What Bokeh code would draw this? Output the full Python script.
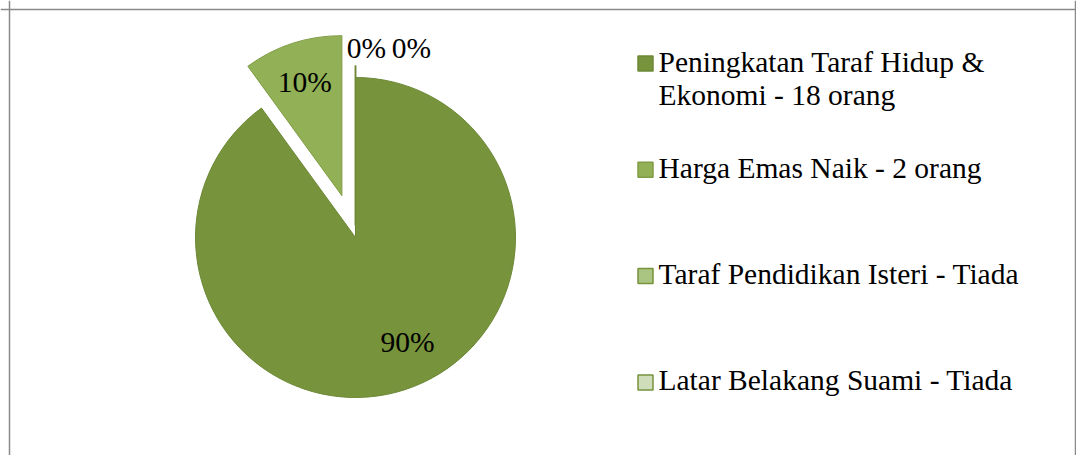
import math
from bokeh.plotting import figure
from bokeh.models import Range1d, Span
from bokeh.core.properties import value
from bokeh.embed import file_html
from bokeh.resources import INLINE

# ---- data ----
categories = ["Peningkatan Taraf Hidup &\nEkonomi - 18 orang",
              "Harga Emas Naik - 2 orang",
              "Taraf Pendidikan Isteri - Tiada",
              "Latar Belakang Suami - Tiada"]
counts = [18, 2, 0, 0]
pct_labels = ["90%", "10%", "0%", "0%"]

# ---- style ----
fills = ["#77933C", "#92B055", "#AAC581", "#CFDDBB"]
edges = ["#6C8836", "#7F9C44", "#77933C", "#77933C"]
explode = [0, 44, 12, 12]
label_dist = [110, 120, 178, 178]
label_dx = [18, 0, 11, 56]
FONT = value("'Liberation Serif', 'Times New Roman', serif")
FS = "29.5px"

W, H = 1076, 455
p = figure(width=W, height=H, output_backend="svg", toolbar_location=None,
           x_range=Range1d(0, W), y_range=Range1d(0, H), min_border=0)
p.axis.visible = False
p.grid.visible = False
p.outline_line_color = None
p.background_fill_color = "white"
p.border_fill_color = "white"

# border (left, right, top)
for loc, dim in [(9, "height"), (W - 1, "height"), (H - 9, "width")]:
    p.add_layout(Span(location=loc, dimension=dim, line_color="#8a8a8a", line_width=1.5))

cx, cy, r = 355, 218, 160
total = sum(counts)
start = math.pi / 2
slices = []
for i, c in enumerate(counts):
    sweep = 2 * math.pi * c / total
    end = start - sweep
    mid = (start + end) / 2
    ox = cx + explode[i] * math.cos(mid)
    oy = cy + explode[i] * math.sin(mid)
    slices.append((start, end, mid, ox, oy))
    start = end

# zero-width slices as radial lines (drawn first)
for i, c in enumerate(counts):
    if c == 0:
        s, e, m, ox, oy = slices[i]
        p.segment(x0=[ox], y0=[oy], x1=[ox + r * math.cos(m)], y1=[oy + r * math.sin(m)],
                  line_color=edges[0], line_width=1.5)

for i, c in enumerate(counts):
    if c > 0:
        s, e, m, ox, oy = slices[i]
        p.wedge(x=[ox], y=[oy], radius=r, start_angle=s, end_angle=e, direction="clock",
                fill_color=fills[i], line_color=edges[i], line_width=1)

for i, lab in enumerate(pct_labels):
    s, e, m, ox, oy = slices[i]
    lx = ox + label_dist[i] * math.cos(m) + label_dx[i]
    ly = oy + label_dist[i] * math.sin(m)
    p.text(x=[lx], y=[ly], text=[lab], text_font=FONT, text_font_size=FS,
           text_align="center", text_baseline="middle", text_color="black")

# legend
leg_x, leg_y0, leg_step, line_h = 645, 392, 106.3, 33
for i, lab in enumerate(categories):
    my = leg_y0 - i * leg_step
    p.scatter(x=[leg_x], y=[my], marker="square", size=15, fill_color=fills[i],
              line_color=edges[i], line_width=1.5)
    for j, line in enumerate(lab.split("\n")):
        p.text(x=[leg_x + 13], y=[my + 2 - j * line_h], text=[line], text_font=FONT,
               text_font_size=FS, text_align="left", text_baseline="middle",
               text_color="black")

open("out.html", "w").write(file_html(p, INLINE))
